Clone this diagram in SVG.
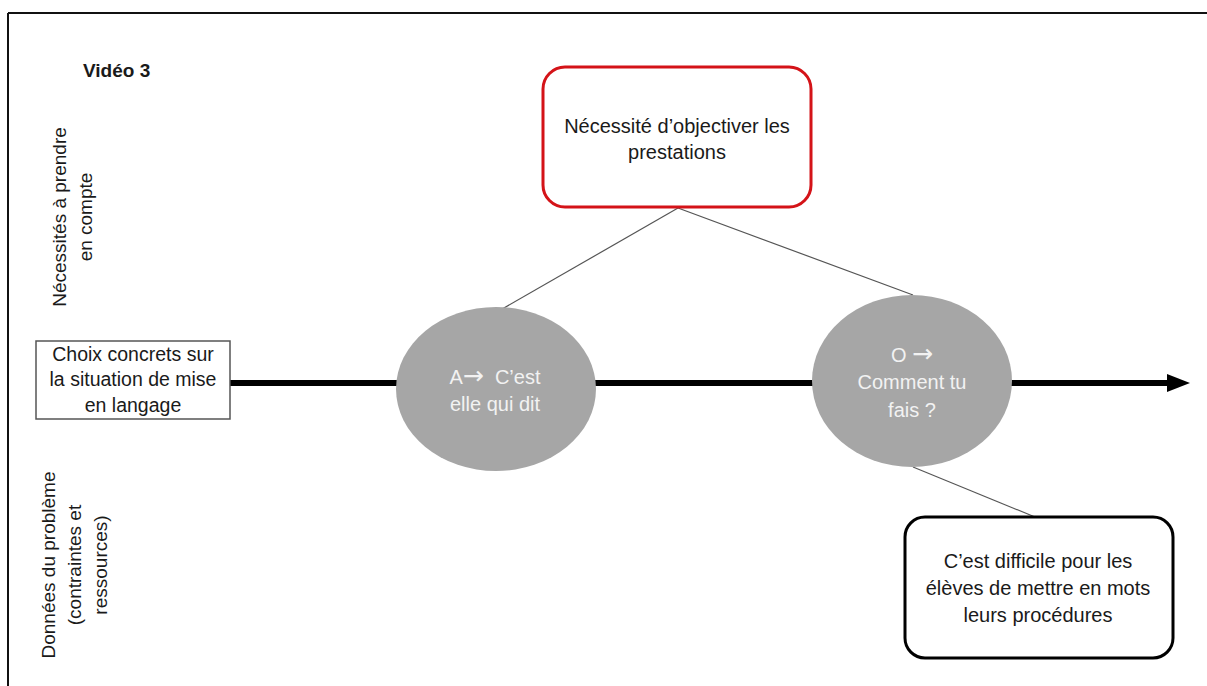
<svg xmlns="http://www.w3.org/2000/svg" width="1207" height="686" viewBox="0 0 1207 686">
<style>
  text { font-family: "Liberation Sans", Arial, sans-serif; font-size: 20px; fill: #1a1a1a; }
  .c { text-anchor: middle; }
  .w { fill: #f2f2f2; white-space: pre; }
  .v { font-size: 19px; }
  .arr { font-family: "DejaVu Sans", sans-serif; font-size: 25px; }
  .thin { stroke: #555; stroke-width: 1.2; fill: none; }
  .ell { fill: #a6a6a6; }
</style>
<rect width="1207" height="686" fill="#fff"/>
<g id="frame">
  <line x1="8" y1="13" x2="1207" y2="13" stroke="#111" stroke-width="2"/>
  <line x1="8" y1="13" x2="8" y2="686" stroke="#111" stroke-width="2"/>
</g>
<g id="title"><text x="83" y="77" style="font-weight:bold;font-size:19px">Vidéo 3</text></g>
<g id="label-top">
  <text class="c v" transform="translate(66,217) rotate(-90)">Nécessités à prendre</text>
  <text class="c v" transform="translate(92,217) rotate(-90)">en compte</text>
</g>
<g id="label-bottom">
  <text class="c v" transform="translate(55,565) rotate(-90)">Données du problème</text>
  <text class="c v" transform="translate(81,565) rotate(-90)">(contraintes et</text>
  <text class="c v" transform="translate(107,565) rotate(-90)">ressources)</text>
</g>
<g id="connectors">
  <line x1="230" y1="383" x2="1170" y2="383" stroke="#000" stroke-width="6"/>
  <polygon points="1167,374 1190,383 1167,392" fill="#000"/>
  <line class="thin" x1="678" y1="208" x2="497" y2="312"/>
  <line class="thin" x1="678" y1="208" x2="913" y2="295"/>
  <line class="thin" x1="913" y1="467" x2="1035" y2="517"/>
</g>
<g id="start">
  <rect x="36" y="341" width="194" height="78" fill="#fff" stroke="#555" stroke-width="1.5"/>
  <text class="c" x="133" y="361" style="font-size:19.5px">Choix concrets sur</text>
  <text class="c" x="133" y="386" style="font-size:19.5px">la situation de mise</text>
  <text class="c" x="133" y="412" style="font-size:19.5px">en langage</text>
</g>
<g id="need">
  <rect x="543" y="67" width="268" height="140" rx="22" fill="#fff" stroke="#d41318" stroke-width="3"/>
  <text class="c" x="677" y="133">Nécessité d’objectiver les</text>
  <text class="c" x="677" y="159">prestations</text>
</g>
<g id="node-a">
  <ellipse class="ell" cx="496" cy="389" rx="100" ry="82"/>
  <text class="c w" x="495" y="384">A<tspan class="arr">→</tspan>  C’est</text>
  <text class="c w" x="495" y="411">elle qui dit</text>
</g>
<g id="node-o">
  <ellipse class="ell" cx="912" cy="381" rx="100" ry="86"/>
  <text class="c w" x="912" y="362">O <tspan class="arr">→</tspan></text>
  <text class="c w" x="912" y="389">Comment tu</text>
  <text class="c w" x="912" y="417">fais ?</text>
</g>
<g id="difficulty">
  <rect x="905" y="517" width="268" height="141" rx="20" fill="#fff" stroke="#000" stroke-width="3"/>
  <text class="c" x="1038" y="568">C’est difficile pour les</text>
  <text class="c" x="1038" y="595">élèves de mettre en mots</text>
  <text class="c" x="1038" y="622">leurs procédures</text>
</g>
</svg>
